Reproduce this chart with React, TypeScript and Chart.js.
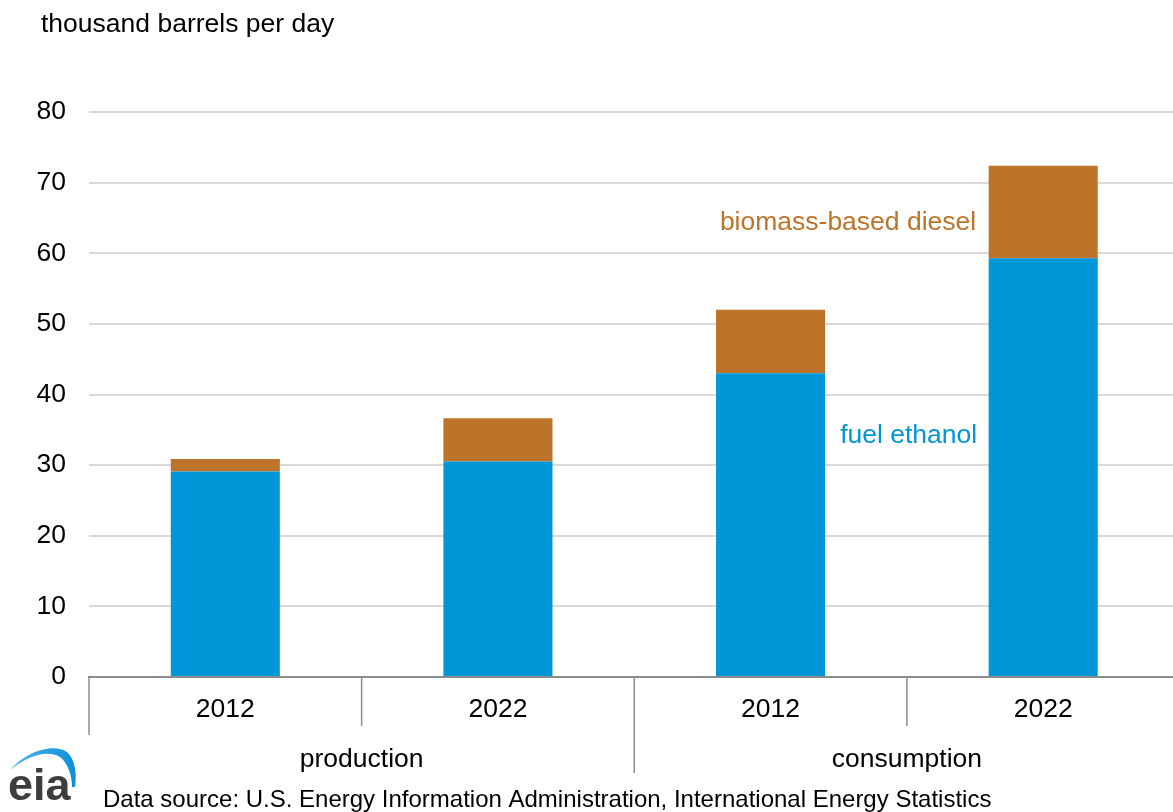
import React, { useEffect, useRef } from 'react';
import { Chart, registerables } from 'chart.js';

Chart.register(...registerables);

// Biofuels, thousand barrels per day
const categories = ['2012', '2022', '2012', '2022'];
const groups = ['production', 'consumption'];
const seriesNames = ['fuel ethanol', 'biomass-based diesel'];
const fuelEthanol = [29.1, 30.5, 43.0, 59.3];
const biomassDiesel = [1.75, 6.15, 9.0, 13.1];
const yMin = 0;
const yMax = 80;
const yStep = 10;
const unitLabel = 'thousand barrels per day';
const sourceNote = 'Data source: U.S. Energy Information Administration, International Energy Statistics';

const BLUE = '#0096d7';
const BROWN = '#bd732a';
const AXIS_GRAY = '#8c8c8c';
const GRID_GRAY = '#d9d9d9';
const FONT = '"Liberation Sans", Arial, Helvetica, sans-serif';
const FS = 26.5;
const W = 1185;
const H = 812;

const overlay = {
  id: 'overlay',
  afterDraw(chart: any) {
    const { ctx, chartArea: a, scales } = chart;
    const x = scales.x;
    const y = scales.y;
    const centers = categories.map((_, i) => x.getPixelForValue(i));
    const step = centers[1] - centers[0];
    const edges = [centers[0] - step / 2];
    centers.forEach((c) => edges.push(c + step / 2));

    ctx.save();

    // category and group dividers below the axis
    ctx.strokeStyle = AXIS_GRAY;
    ctx.lineWidth = 1.5;
    edges.forEach((ex, i) => {
      const depth = i === 2 ? 96 : i === 0 || i === edges.length - 1 ? 58 : 49;
      ctx.beginPath();
      ctx.moveTo(ex, a.bottom);
      ctx.lineTo(ex, a.bottom + depth);
      ctx.stroke();
    });

    ctx.fillStyle = '#000';
    ctx.textBaseline = 'alphabetic';
    ctx.font = `${FS}px ${FONT}`;
    ctx.textAlign = 'center';
    groups.forEach((g, gi) => {
      const cx = (edges[gi * 2] + edges[gi * 2 + 2]) / 2;
      ctx.fillText(g, cx, a.bottom + 90);
    });

    // unit label and source note
    ctx.textAlign = 'left';
    ctx.fillText(unitLabel, 41, 32);
    ctx.font = `24px ${FONT}`;
    ctx.fillText(sourceNote, 103, 807);

    // series labels next to the last bar
    ctx.font = `${FS}px ${FONT}`;
    ctx.textAlign = 'right';
    ctx.fillStyle = BROWN;
    ctx.fillText(seriesNames[1], centers[3] - 67, y.getPixelForValue(63.3));
    ctx.fillStyle = BLUE;
    ctx.fillText(seriesNames[0], centers[3] - 66, y.getPixelForValue(33.1));

    // eia logo
    const grad = ctx.createLinearGradient(10, 0, 78, 0);
    grad.addColorStop(0, '#4fb8ec');
    grad.addColorStop(1, '#0a8fd6');
    ctx.fillStyle = grad;
    ctx.beginPath();
    ctx.moveTo(10, 770);
    ctx.bezierCurveTo(24, 753, 52, 742, 67, 752);
    ctx.bezierCurveTo(75, 759, 77, 773, 75, 787);
    ctx.lineTo(72, 787);
    ctx.bezierCurveTo(72, 776, 68, 763, 60, 757);
    ctx.bezierCurveTo(46, 749, 26, 757, 10, 770);
    ctx.closePath();
    ctx.fill();
    ctx.fillStyle = '#3d3d3d';
    ctx.font = `bold 45px ${FONT}`;
    ctx.textAlign = 'left';
    ctx.fillText('eia', 8, 800);

    ctx.restore();
  },
};

export default function App() {
  const ref = useRef<HTMLCanvasElement>(null);

  useEffect(() => {
    if (!ref.current) return;
    const chart = new Chart(ref.current, {
      type: 'bar',
      data: {
        labels: categories,
        datasets: [
          {
            label: seriesNames[0],
            data: fuelEthanol,
            backgroundColor: BLUE,
            borderWidth: 0,
          },
          {
            label: seriesNames[1],
            data: biomassDiesel,
            backgroundColor: BROWN,
            borderWidth: 0,
          },
        ],
      },
      options: {
        animation: false,
        responsive: false,
        devicePixelRatio: 1,
        datasets: { bar: { categoryPercentage: 1, barPercentage: 0.4 } },
        layout: { padding: { top: 112, left: 0, right: 5.5, bottom: 0 } },
        plugins: {
          legend: { display: false },
          tooltip: { enabled: false },
        },
        scales: {
          x: {
            stacked: true,
            offset: true,
            grid: { display: false, drawTicks: false },
            border: { display: true, color: AXIS_GRAY, width: 2 },
            ticks: {
              color: '#000',
              font: { family: FONT, size: FS },
              padding: 17,
              maxRotation: 0,
              autoSkip: false,
            },
            afterFit: (s: any) => {
              s.height = 135;
            },
          },
          y: {
            stacked: true,
            min: yMin,
            max: yMax,
            border: { display: false },
            grid: {
              drawTicks: false,
              lineWidth: 2,
              color: (c: any) => (c.tick && c.tick.value === yMin ? 'rgba(0,0,0,0)' : GRID_GRAY),
            },
            ticks: {
              stepSize: yStep,
              color: '#000',
              font: { family: FONT, size: FS },
              padding: 23,
            },
            afterFit: (s: any) => {
              s.width = 89;
            },
          },
        },
      },
      plugins: [overlay],
    });
    return () => chart.destroy();
  }, []);

  return (
    <div
      style={{
        position: 'absolute',
        left: 0,
        top: 0,
        width: 1173,
        height: 812,
        overflow: 'hidden',
        background: '#fff',
      }}
    >
      <canvas ref={ref} width={W} height={H} style={{ display: 'block', width: W, height: H }} />
    </div>
  );
}
